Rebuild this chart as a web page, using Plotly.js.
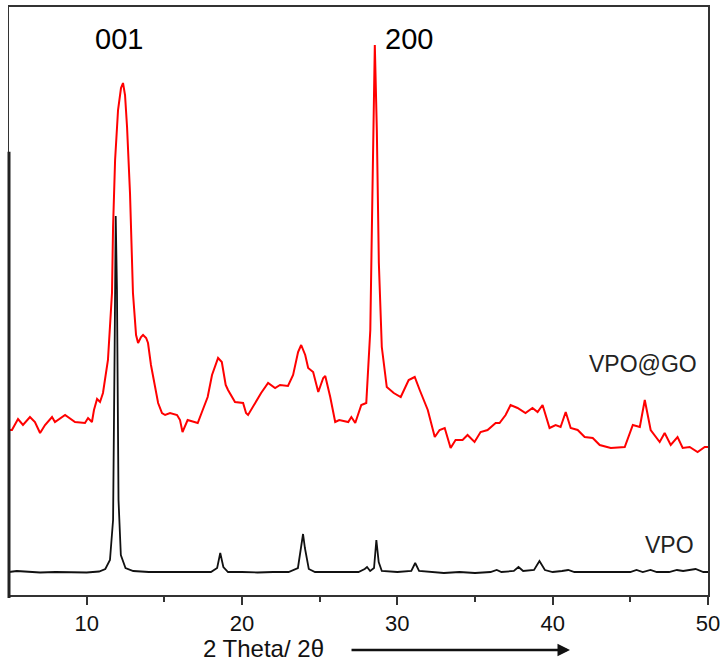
<!DOCTYPE html>
<html>
<head>
<meta charset="utf-8">
<script src="https://cdn.plot.ly/plotly-3.0.1.min.js"></script>
<style>html,body{margin:0;padding:0;background:#fff;}#chart{width:724px;height:663px;}</style>
</head>
<body>
<div id="chart"></div>
<script>
// VPO@GO (red) pattern, 2θ (deg) and intensity (a.u.)
const vpoGoX = [5.00,5.19,5.58,5.90,6.35,6.67,7.00,7.32,7.77,7.96,8.61,9.06,9.25,9.89,10.09,10.34,10.47,10.67,10.86,11.05,11.37,11.63,11.70,11.83,12.02,12.21,12.34,12.47,12.60,12.79,12.98,13.18,13.31,13.50,13.63,13.83,13.95,14.14,14.27,14.47,14.60,14.85,15.05,15.37,15.82,16.01,16.17,16.50,17.15,17.47,17.79,18.07,18.46,18.70,18.95,19.10,19.55,20.07,20.26,20.39,20.84,21.23,21.68,22.13,22.45,22.96,23.29,23.61,23.81,24.07,24.26,24.58,24.91,25.23,25.36,25.68,26.00,26.26,26.84,27.04,27.29,27.68,28.00,28.26,28.39,28.55,28.68,28.81,29.00,29.32,29.77,30.22,30.73,31.12,31.44,31.96,32.41,32.72,33.05,33.43,33.75,34.20,34.52,34.97,35.36,35.81,36.33,36.58,36.97,37.29,37.74,38.25,38.70,39.03,39.35,39.80,40.19,40.51,40.84,41.16,41.61,42.06,42.58,43.03,43.74,44.64,45.16,45.61,45.93,46.31,46.89,47.21,47.60,48.04,48.37,48.82,49.33,49.79,50.00];
const vpoGoY = [165,165,176,170,178,173,162,170,178,173,180,175,173,172,177,173,185,196,193,202,235,302,368,435,485,507,512,500,468,402,302,260,252,258,260,257,252,230,218,200,192,182,180,182,180,175,163,175,172,185,198,220,237,233,210,205,193,192,182,180,192,202,212,207,210,209,220,243,250,240,227,223,203,217,219,198,173,175,173,178,172,190,192,265,395,550,465,332,248,208,202,198,215,218,205,185,158,165,167,147,155,155,160,153,163,165,172,172,180,190,187,182,187,183,190,167,170,168,183,167,165,158,157,150,147,148,170,168,195,165,153,162,150,158,147,148,143,148,148];

// VPO (black) pattern
const vpoX = [5.0,5.5,6.0,6.5,7.0,8.0,9.0,10.0,10.8,11.2,11.5,11.7,11.8,11.87,11.95,12.05,12.2,12.5,13.0,14.0,15.0,16.0,17.0,18.0,18.4,18.6,18.8,19.1,20.0,21.0,22.0,23.0,23.6,23.8,23.93,24.05,24.3,24.7,25.5,26.5,27.5,27.9,28.05,28.25,28.5,28.65,28.8,29.0,30.0,30.9,31.15,31.4,32.0,33.0,34.0,35.0,36.0,36.4,36.7,37.5,37.8,38.1,38.8,39.15,39.5,40.0,40.6,41.0,41.4,42.0,43.0,44.0,45.0,45.4,45.8,46.3,46.7,47.5,48.0,48.4,49.2,49.7,50.0];
const vpoY = [23,24,23.5,23,22.5,23,23,22.5,23.5,26,35,75,245,379,305,95,40,27,24,23,23,23,22.5,23,27,42,28,23,23,22.5,23,23,27,50,61,47,26,23,23,22.5,23,26,28,24,27,55,33,24,23,24,32,24,23,22,23,22,23,25,23,24,28,24,25,34,25,23,24,25,23,23,23,23,23,25,23,25,23,23,25,24,26,23,23];

// Text
const peakLabels = ["001", "200"];
const peakLabelX = [12.1, 30.75];
const sampleLabels = ["VPO@GO", "VPO"];
const xTickVals = [10, 20, 30, 40, 50];
const xTitle = "2 Theta/ 2θ";

const font = "Arial, 'Liberation Sans', sans-serif";

const traces = [
  {x: vpoX, y: vpoY, type: 'scatter', mode: 'lines', line: {color: '#111111', width: 1.8}, hoverinfo: 'skip'},
  {x: vpoGoX, y: vpoGoY, type: 'scatter', mode: 'lines', line: {color: '#ff0000', width: 2}, hoverinfo: 'skip'}
];

const layout = {
  width: 724, height: 663,
  margin: {l: 9, r: 16, t: 7, b: 68},
  paper_bgcolor: '#ffffff', plot_bgcolor: '#ffffff',
  showlegend: false,
  font: {family: font, size: 22, color: '#111111'},
  xaxis: {
    range: [5, 50], tickvals: xTickVals, ticktext: xTickVals.map(String),
    ticks: 'outside', ticklen: 8, tickwidth: 2, tickcolor: '#333333',
    showline: true, linecolor: '#333333', linewidth: 2, mirror: true,
    showgrid: false, zeroline: false,
    tickfont: {family: font, size: 22, color: '#111111'},
    minor: {tickvals: [15, 25, 35, 45], ticks: 'outside', ticklen: 5, tickwidth: 2, tickcolor: '#333333', showgrid: false}
  },
  yaxis: {
    range: [0, 588], showticklabels: false, ticks: '',
    showline: true, linecolor: '#333333', linewidth: 1.5, mirror: true,
    showgrid: false, zeroline: false
  },
  shapes: [
    {type: 'line', xref: 'paper', yref: 'paper', x0: 0, x1: 0, y0: -0.005, y1: 0.754, line: {color: '#222222', width: 3}}
  ],
  annotations: [
    {x: peakLabelX[0], y: 556, xref: 'x', yref: 'y', text: peakLabels[0], showarrow: false, font: {size: 29, family: font, color: '#000'}, xanchor: 'center', yanchor: 'middle'},
    {x: peakLabelX[1], y: 556, xref: 'x', yref: 'y', text: peakLabels[1], showarrow: false, font: {size: 29, family: font, color: '#000'}, xanchor: 'center', yanchor: 'middle'},
    {x: 49.4, y: 231, xref: 'x', yref: 'y', text: sampleLabels[0], showarrow: false, font: {size: 23, family: font, color: '#222'}, xanchor: 'right', yanchor: 'middle'},
    {x: 49.2, y: 50, xref: 'x', yref: 'y', text: sampleLabels[1], showarrow: false, font: {size: 23, family: font, color: '#222'}, xanchor: 'right', yanchor: 'middle'},
    {x: 0.3634, y: -0.0905, xref: 'paper', yref: 'paper', text: xTitle, showarrow: false, font: {size: 24, family: font, color: '#111'}, xanchor: 'center', yanchor: 'middle', borderpad: 0},
    {x: 0.8026, y: -0.0935, xref: 'paper', yref: 'paper', ax: -220, ay: 0, text: '', showarrow: true, arrowhead: 2, arrowsize: 1, arrowwidth: 2.5, arrowcolor: '#111'}
  ]
};

Plotly.newPlot('chart', traces, layout, {displayModeBar: false, staticPlot: true});
</script>
</body>
</html>
